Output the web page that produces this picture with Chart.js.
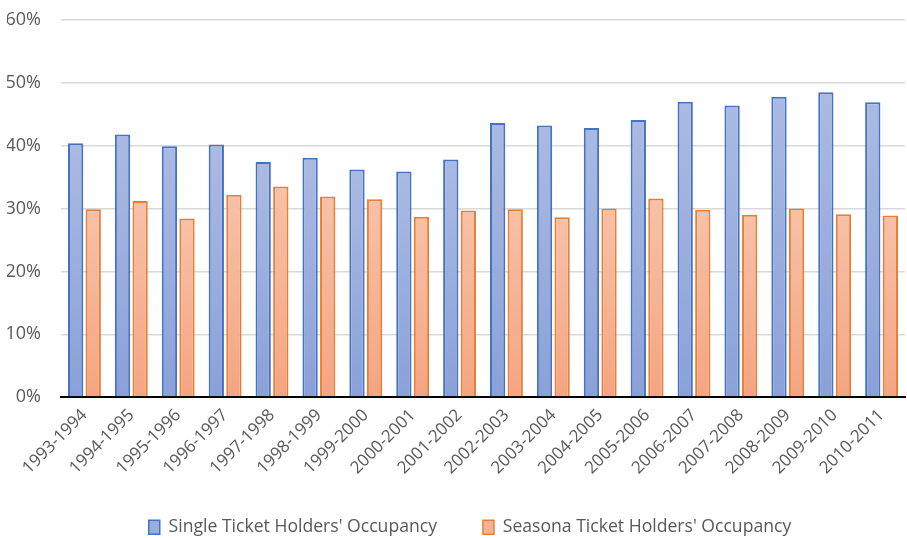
<!DOCTYPE html>
<html>
<head>
<meta charset="utf-8">
<script src="https://cdn.jsdelivr.net/npm/chart.js@4/dist/chart.umd.min.js"></script>
<style>
html,body{margin:0;padding:0;background:#fff;}
#wrap{width:907px;height:538px;position:relative;}
</style>
</head>
<body>
<div id="wrap"><canvas id="c"></canvas></div>
<script>
const categories = ["1993-1994","1994-1995","1995-1996","1996-1997","1997-1998","1998-1999","1999-2000","2000-2001","2001-2002","2002-2003","2003-2004","2004-2005","2005-2006","2006-2007","2007-2008","2008-2009","2009-2010","2010-2011"];
const singleValues = [40.4,41.8,39.9,40.2,37.4,38.1,36.2,35.9,37.8,43.6,43.2,42.8,44.1,47.0,46.4,47.8,48.5,46.9];
const seasonValues = [29.9,31.2,28.4,32.2,33.5,31.9,31.5,28.7,29.7,29.9,28.6,30.0,31.6,29.8,29.0,30.0,29.1,28.9];
const seriesNames = ["Single Ticket Holders' Occupancy","Seasona Ticket Holders' Occupancy"];
const yTicks = [0,10,20,30,40,50,60];

function barGradient(top, bottom){
  return function(ctx){
    const chart = ctx.chart;
    if (!chart.chartArea || ctx.type !== 'data') return bottom;
    const y = chart.scales.y;
    const yTop = y.getPixelForValue(ctx.parsed ? ctx.parsed.y : ctx.raw);
    const yBase = y.getPixelForValue(0);
    if (!isFinite(yTop) || !isFinite(yBase) || yTop === yBase) return bottom;
    const g = chart.ctx.createLinearGradient(0, yTop, 0, yBase);
    g.addColorStop(0, top);
    g.addColorStop(1, bottom);
    return g;
  };
}

// shift the legend box so it sits where the reference places it
const legendShift = {
  id: 'legendShift',
  afterLayout(chart){
    const lg = chart.legend;
    if (lg) { lg.left += 14; lg.right += 14; lg.top -= 14; lg.bottom -= 14; }
  }
};

Chart.defaults.font.family = "'Open Sans', sans-serif";
Chart.defaults.color = '#595959';

new Chart(document.getElementById('c'), {
  type: 'bar',
  data: {
    labels: categories,
    datasets: [
      {
        label: seriesNames[0],
        data: singleValues,
        backgroundColor: barGradient('#abbae2', '#8aa1d8'),
        borderColor: '#4472c4',
        borderWidth: 2,
        borderSkipped: 'bottom',
        categoryPercentage: 0.75,
        barPercentage: 0.87
      },
      {
        label: seriesNames[1],
        data: seasonValues,
        backgroundColor: barGradient('#f7c1a8', '#f4a582'),
        borderColor: '#ed7d31',
        borderWidth: 2,
        borderSkipped: 'bottom',
        categoryPercentage: 0.75,
        barPercentage: 0.87
      }
    ]
  },
  plugins: [legendShift],
  options: {
    responsive: true,
    maintainAspectRatio: false,
    animation: false,
    layout: { padding: { top: 20, right: 2, left: 7, bottom: -22 } },
    plugins: {
      tooltip: { enabled: false },
      legend: {
        position: 'bottom',
        labels: {
          font: { size: 17.6 },
          color: '#595959',
          boxWidth: 11,
          boxHeight: 14,
          padding: 46,
          generateLabels: function(chart){
            const items = Chart.defaults.plugins.legend.labels.generateLabels(chart);
            const fills = ['#9aaedd', '#f5b393'];
            items.forEach((it, i) => { it.fillStyle = fills[i]; it.lineWidth = 1.5; });
            return items;
          }
        }
      }
    },
    scales: {
      x: {
        grid: { display: false, drawTicks: false },
        border: { display: true, color: '#000', width: 2 },
        ticks: { font: { size: 17 }, color: '#595959', maxRotation: 45, minRotation: 45, padding: 8, autoSkip: false },
        afterFit: function(axis){ axis.paddingLeft = 0; axis.paddingRight = 0; }
      },
      y: {
        min: 0,
        max: 60,
        afterBuildTicks: function(axis){ axis.ticks = yTicks.map(v => ({ value: v })); },
        afterFit: function(axis){ axis.width = 54; axis.paddingTop = 0; axis.paddingBottom = 0; },
        grid: { color: '#d9d9d9', lineWidth: 1.5, drawTicks: false },
        border: { display: false },
        ticks: { font: { size: 18 }, color: '#595959', padding: 20, callback: v => v + '%' }
      }
    }
  }
});
</script>
</body>
</html>
